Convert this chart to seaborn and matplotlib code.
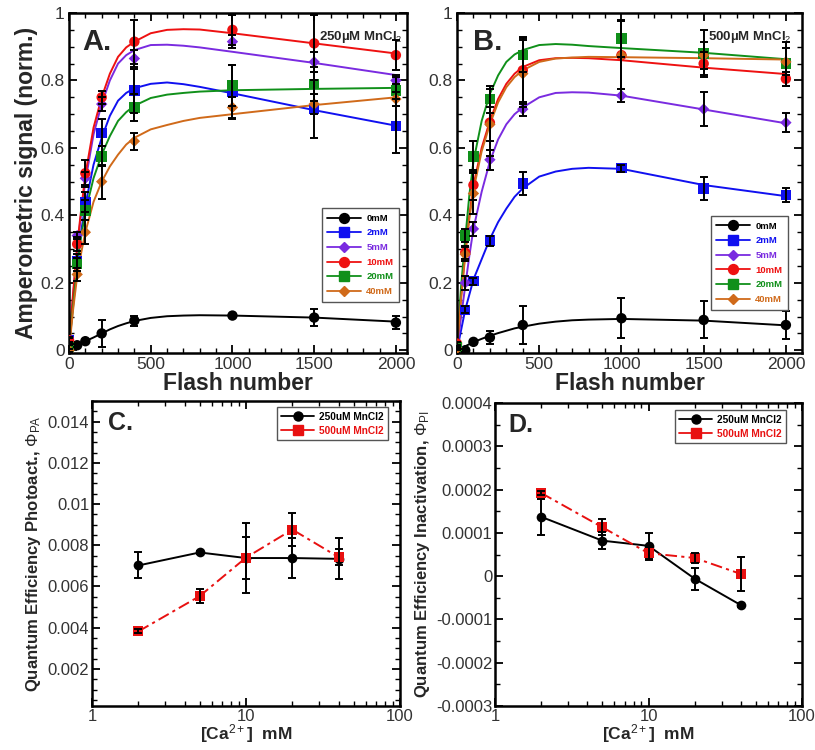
import numpy as np
import pandas as pd
import matplotlib
matplotlib.use("Agg")
import matplotlib.pyplot as plt
from matplotlib.lines import Line2D
from matplotlib.ticker import MultipleLocator, FuncFormatter, LogLocator, NullFormatter, FixedLocator
import seaborn as sns

# ---------------- data ----------------
flash = [0, 50, 100, 200, 400, 1000, 1500, 2000]
series_names = ["0mM", "2mM", "5mM", "10mM", "20mM", "40mM"]

# Panel A (250 uM MnCl2) measured points and errors
a_0mM = [0.01, 0.015, 0.027, 0.05, 0.088, 0.103, 0.097, 0.082]
a_2mM = [0.03, 0.265, 0.44, 0.645, 0.77, 0.765, 0.715, 0.665]
a_5mM = [0.02, 0.34, 0.51, 0.73, 0.865, 0.915, 0.855, 0.80]
a_10mM = [0.03, 0.315, 0.525, 0.75, 0.915, 0.95, 0.91, 0.875]
a_20mM = [0.01, 0.255, 0.415, 0.575, 0.72, 0.785, 0.79, 0.77]
a_40mM = [0.0, 0.225, 0.35, 0.50, 0.62, 0.72, 0.73, 0.745]
a_0mM_err = [0.005, 0.005, 0.005, 0.04, 0.015, 0.005, 0.025, 0.02]
a_2mM_err = [0.01, 0.02, 0.03, 0.04, 0.065, 0.08, 0.085, 0.08]
a_5mM_err = [0.005, 0.01, 0.02, 0.02, 0.025, 0.02, 0.03, 0.01]
a_10mM_err = [0.005, 0.02, 0.04, 0.02, 0.065, 0.045, 0.085, 0.045]
a_20mM_err = [0.005, 0.02, 0.03, 0.03, 0.04, 0.06, 0.05, 0.045]
a_40mM_err = [0.005, 0.02, 0.035, 0.05, 0.025, 0.03, 0.03, 0.02]

# Panel B (500 uM MnCl2)
b_0mM = [0.005, 0.0, 0.025, 0.038, 0.075, 0.095, 0.09, 0.075]
b_2mM = [0.01, 0.12, 0.205, 0.325, 0.495, 0.54, 0.48, 0.46]
b_5mM = [0.01, 0.2, 0.36, 0.565, 0.715, 0.755, 0.715, 0.675]
b_10mM = [0.02, 0.29, 0.49, 0.675, 0.83, 0.875, 0.85, 0.805]
b_20mM = [0.01, 0.34, 0.575, 0.745, 0.875, 0.925, 0.88, 0.85]
b_40mM = [0.005, 0.285, 0.465, 0.67, 0.82, 0.875, 0.875, 0.855]
b_0mM_err = [0.005, 0.005, 0.005, 0.02, 0.055, 0.06, 0.055, 0.042]
b_2mM_err = [0.005, 0.01, 0.01, 0.015, 0.035, 0.01, 0.035, 0.02]
b_5mM_err = [0.005, 0.02, 0.02, 0.03, 0.02, 0.02, 0.05, 0.028]
b_10mM_err = [0.005, 0.02, 0.045, 0.1, 0.1, 0.1, 0.035, 0.02]
b_20mM_err = [0.005, 0.02, 0.045, 0.04, 0.05, 0.055, 0.07, 0.065]
b_40mM_err = [0.005, 0.02, 0.06, 0.05, 0.1, 0.1, 0.04, 0.04]

# fitted curves
fit_x = [0, 25, 50, 75, 100, 150, 200, 250, 300, 350, 400, 500, 600, 700, 800, 1000, 1500, 2000]
fa_0mM = [0.0, 0.008, 0.015, 0.021, 0.027, 0.038, 0.05, 0.062, 0.072, 0.080, 0.087, 0.096, 0.101, 0.103, 0.104, 0.103, 0.097, 0.085]
fa_2mM = [0.01, 0.14, 0.26, 0.355, 0.43, 0.55, 0.63, 0.695, 0.74, 0.763, 0.777, 0.79, 0.794, 0.789, 0.781, 0.762, 0.712, 0.666]
fa_5mM = [0.01, 0.16, 0.30, 0.41, 0.50, 0.64, 0.73, 0.80, 0.85, 0.875, 0.89, 0.905, 0.906, 0.903, 0.898, 0.885, 0.852, 0.816]
fa_10mM = [0.01, 0.17, 0.31, 0.42, 0.52, 0.66, 0.75, 0.82, 0.87, 0.898, 0.915, 0.94, 0.95, 0.952, 0.951, 0.94, 0.91, 0.88]
fa_20mM = [0.01, 0.13, 0.25, 0.34, 0.41, 0.51, 0.58, 0.635, 0.68, 0.706, 0.725, 0.748, 0.758, 0.763, 0.767, 0.771, 0.775, 0.778]
fa_40mM = [0.0, 0.12, 0.22, 0.29, 0.35, 0.44, 0.50, 0.545, 0.58, 0.61, 0.63, 0.655, 0.668, 0.68, 0.689, 0.70, 0.727, 0.75]

fb_0mM = [0.0, 0.006, 0.012, 0.018, 0.024, 0.034, 0.043, 0.051, 0.058, 0.065, 0.07, 0.079, 0.085, 0.089, 0.091, 0.093, 0.088, 0.074]
fb_2mM = [0.0, 0.06, 0.12, 0.165, 0.21, 0.27, 0.33, 0.38, 0.42, 0.455, 0.48, 0.515, 0.53, 0.538, 0.541, 0.538, 0.49, 0.457]
fb_5mM = [0.0, 0.10, 0.19, 0.28, 0.36, 0.47, 0.56, 0.625, 0.67, 0.70, 0.72, 0.75, 0.763, 0.765, 0.764, 0.755, 0.714, 0.673]
fb_10mM = [0.01, 0.16, 0.29, 0.40, 0.49, 0.60, 0.68, 0.745, 0.79, 0.82, 0.84, 0.86, 0.866, 0.867, 0.866, 0.86, 0.838, 0.819]
fb_20mM = [0.01, 0.19, 0.33, 0.46, 0.56, 0.68, 0.76, 0.815, 0.855, 0.877, 0.89, 0.905, 0.908, 0.906, 0.902, 0.896, 0.882, 0.863]
fb_40mM = [0.005, 0.155, 0.28, 0.39, 0.475, 0.59, 0.67, 0.735, 0.78, 0.81, 0.83, 0.855, 0.865, 0.868, 0.87, 0.869, 0.866, 0.862]

# Panels C and D
ca = [2, 5, 10, 20, 40]
mn_labels = ["250uM MnCl2", "500uM MnCl2"]
c_250 = [0.00702, 0.00765, 0.00738, 0.00738, 0.00734]
c_250_err = [0.00063, 0.00008, 0.001, 0.00096, 0.001]
c_500 = [0.00382, 0.00553, 0.0074, 0.00876, 0.00742]
c_500_err = [0.0001, 0.00033, 0.0017, 0.0008, 0.0004]
d_250 = [1.37e-4, 0.82e-4, 0.70e-4, -0.06e-4, -0.67e-4]
d_250_err = [0.41e-4, 0.2e-4, 0.3e-4, 0.25e-4, 0.05e-4]
d_500 = [1.92e-4, 1.13e-4, 0.53e-4, 0.42e-4, 0.05e-4]
d_500_err = [0.05e-4, 0.18e-4, 0.15e-4, 0.12e-4, 0.39e-4]

# ---------------- style ----------------
sns.set_style("ticks")
plt.rcParams["font.family"] = ["Liberation Sans", "DejaVu Sans"]
plt.rcParams["mathtext.fontset"] = "custom"
plt.rcParams["mathtext.rm"] = "Liberation Sans"
plt.rcParams["mathtext.it"] = "Liberation Sans:italic"
plt.rcParams["mathtext.bf"] = "Liberation Sans:bold"

colors = ["#000000", "#1010f0", "#7a2be0", "#ee1111", "#10901a", "#d06a1a"]
markers = ["o", "s", "D", "o", "s", "D"]
msizes = [7.5, 7.5, 5.8, 7.5, 7.5, 5.8]
tick_col = "#333333"

fig = plt.figure(figsize=(8.15, 7.5), dpi=100)
W, H = 815.0, 750.0


def axes_px(l, t, r, b):
    return fig.add_axes([l / W, 1 - b / H, (r - l) / W, (b - t) / H])


def fmt(v, pos):
    if abs(v) < 1e-12:
        return "0"
    return "%g" % v


def style_axes(ax, labelsize, pad=3):
    for s in ax.spines.values():
        s.set_linewidth(1.8)
        s.set_color("black")
    ax.tick_params(which="both", direction="in", top=True, right=True,
                   labelsize=labelsize, labelcolor=tick_col, color="black")
    ax.tick_params(which="major", length=6, width=1.3, pad=pad)
    ax.tick_params(which="minor", length=3.5, width=1.0)


def kinetic_panel(ax, pts, errs, fits, xmax, letter, mn_text, leg_anchor, ylabel):
    for i, name in enumerate(series_names):
        sns.lineplot(x=fit_x, y=fits[i], color=colors[i], linewidth=1.4, ax=ax,
                     estimator=None, sort=False, legend=False, zorder=2)
    for i, name in enumerate(series_names):
        sns.scatterplot(x=flash, y=pts[i], color=colors[i], marker=markers[i],
                        s=msizes[i] ** 2, linewidth=0, edgecolor="none", ax=ax,
                        legend=False, zorder=3)
    for i, name in enumerate(series_names):
        ax.errorbar(flash, pts[i], yerr=errs[i], fmt="none", ecolor="black",
                    elinewidth=1.4, capsize=3, capthick=1.4, zorder=4)
    ax.set_xlim(0, xmax)
    ax.set_ylim(-0.008, 1.0)
    ax.xaxis.set_major_locator(MultipleLocator(500))
    ax.xaxis.set_minor_locator(MultipleLocator(100))
    ax.yaxis.set_major_locator(MultipleLocator(0.2))
    ax.yaxis.set_minor_locator(MultipleLocator(0.05))
    ax.xaxis.set_major_formatter(FuncFormatter(fmt))
    ax.yaxis.set_major_formatter(FuncFormatter(fmt))
    style_axes(ax, 12.5)
    ax.set_xlabel("Flash number", fontsize=16.5, fontweight="bold", labelpad=0)
    if ylabel:
        ax.set_ylabel("Amperometric signal (norm.)", fontsize=16.5,
                      fontweight="bold", labelpad=2)
    else:
        ax.set_ylabel("")
    ax.text(leg_anchor[2], 0.891, letter, transform=ax.transAxes,
            fontsize=21, fontweight="bold", va="baseline")
    ax.text(leg_anchor[3], 0.92, mn_text, transform=ax.transAxes,
            fontsize=9.5, fontweight="bold", va="baseline")
    handles = [Line2D([], [], color=colors[i], marker=markers[i],
                      markersize=msizes[i] * 0.95, lw=1.3)
               for i in range(len(series_names))]
    leg = ax.legend(handles, series_names, loc="upper right",
                    bbox_to_anchor=(leg_anchor[0], leg_anchor[1]),
                    prop={"weight": "bold", "size": 6.8}, frameon=True,
                    fancybox=False, edgecolor="#555555", framealpha=1,
                    handlelength=3.6, labelspacing=0.6, borderpad=0.6,
                    handletextpad=0.5, borderaxespad=0)
    leg.get_frame().set_linewidth(1.0)
    for t, c in zip(leg.get_texts(), colors):
        t.set_color(c)


axA = axes_px(69, 13, 407, 353)
kinetic_panel(axA,
              [a_0mM, a_2mM, a_5mM, a_10mM, a_20mM, a_40mM],
              [a_0mM_err, a_2mM_err, a_5mM_err, a_10mM_err, a_20mM_err, a_40mM_err],
              [fa_0mM, fa_2mM, fa_5mM, fa_10mM, fa_20mM, fa_40mM],
              2068, "A.", "250µM MnCl$_2$", (0.976, 0.426, 0.04, 0.74), True)

axB = axes_px(457, 13, 802, 353)
kinetic_panel(axB,
              [b_0mM, b_2mM, b_5mM, b_10mM, b_20mM, b_40mM],
              [b_0mM_err, b_2mM_err, b_5mM_err, b_10mM_err, b_20mM_err, b_40mM_err],
              [fb_0mM, fb_2mM, fb_5mM, fb_10mM, fb_20mM, fb_40mM],
              2098, "B.", "500µM MnCl$_2$", (0.959, 0.403, 0.046, 0.728), False)

qe_colors = ["#000000", "#e81010"]
qe_markers = ["o", "s"]


def qe_panel(ax, v250, e250, v500, e500, ylim, major, minor, letter, ylabel, leg_anchor):
    df = pd.DataFrame({
        "ca": ca + ca,
        "val": v250 + v500,
        "series": [mn_labels[0]] * len(ca) + [mn_labels[1]] * len(ca),
    })
    sns.lineplot(data=df, x="ca", y="val", hue="series", style="series",
                 palette=dict(zip(mn_labels, qe_colors)),
                 markers=dict(zip(mn_labels, qe_markers)),
                 dashes={mn_labels[0]: "", mn_labels[1]: (6, 2.2, 1.6, 2.2)},
                 markersize=7, markeredgewidth=0, linewidth=1.4, ax=ax,
                 legend=False, zorder=2)
    ax.errorbar(ca, v250, yerr=e250, fmt="none", ecolor="black", elinewidth=1.4,
                capsize=3, capthick=1.4, zorder=4)
    ax.errorbar(ca, v500, yerr=e500, fmt="none", ecolor="black", elinewidth=1.4,
                capsize=3, capthick=1.4, zorder=4)
    ax.set_xscale("log")
    ax.set_xlim(1, 100)
    ax.set_ylim(*ylim)
    ax.xaxis.set_major_locator(FixedLocator([1, 10, 100]))
    ax.xaxis.set_major_formatter(FuncFormatter(lambda v, p: "%g" % v))
    ax.xaxis.set_minor_locator(LogLocator(base=10, subs=np.arange(2, 10)))
    ax.xaxis.set_minor_formatter(NullFormatter())
    ax.yaxis.set_major_locator(MultipleLocator(major))
    ax.yaxis.set_minor_locator(MultipleLocator(minor))
    ax.yaxis.set_major_formatter(FuncFormatter(fmt))
    style_axes(ax, 12, pad=2)
    ax.set_xlabel("[Ca$^{2+}$]  mM", fontsize=12.5, fontweight="bold", labelpad=-1)
    ax.set_ylabel(ylabel, fontsize=12, fontweight="bold", labelpad=3)
    ax.text(leg_anchor[2], leg_anchor[3], letter, transform=ax.transAxes,
            fontsize=18, fontweight="bold", va="baseline")
    handles = [Line2D([], [], color=qe_colors[i], marker=qe_markers[i],
                      markersize=6.5, lw=1.3) for i in range(2)]
    leg = ax.legend(handles, mn_labels, loc="upper right",
                    bbox_to_anchor=(leg_anchor[0], leg_anchor[1]),
                    prop={"weight": "bold", "size": 7.3}, frameon=True,
                    fancybox=False, edgecolor="#555555", framealpha=1,
                    handlelength=3.2, labelspacing=0.4, borderpad=0.45,
                    handletextpad=0.5, borderaxespad=0)
    leg.get_frame().set_linewidth(1.0)
    for t, c in zip(leg.get_texts(), qe_colors):
        t.set_color(c)


axC = axes_px(92, 401, 400, 706)
qe_panel(axC, c_250, c_250_err, c_500, c_500_err, (0.0002, 0.015), 0.002, 0.0005,
         "C.", r"Quantum Efficiency Photoact., $\Phi_{\mathrm{PA}}$",
         (0.961, 0.980, 0.052, 0.906))

axD = axes_px(495, 403, 802, 706)
qe_panel(axD, d_250, d_250_err, d_500, d_500_err, (-0.0003, 0.0004), 0.0001, 0.00005,
         "D.", r"Quantum Efficiency Inactivation, $\Phi_{\mathrm{PI}}$",
         (0.948, 0.977, 0.042, 0.905))

fig.savefig("out.png", dpi=100)
